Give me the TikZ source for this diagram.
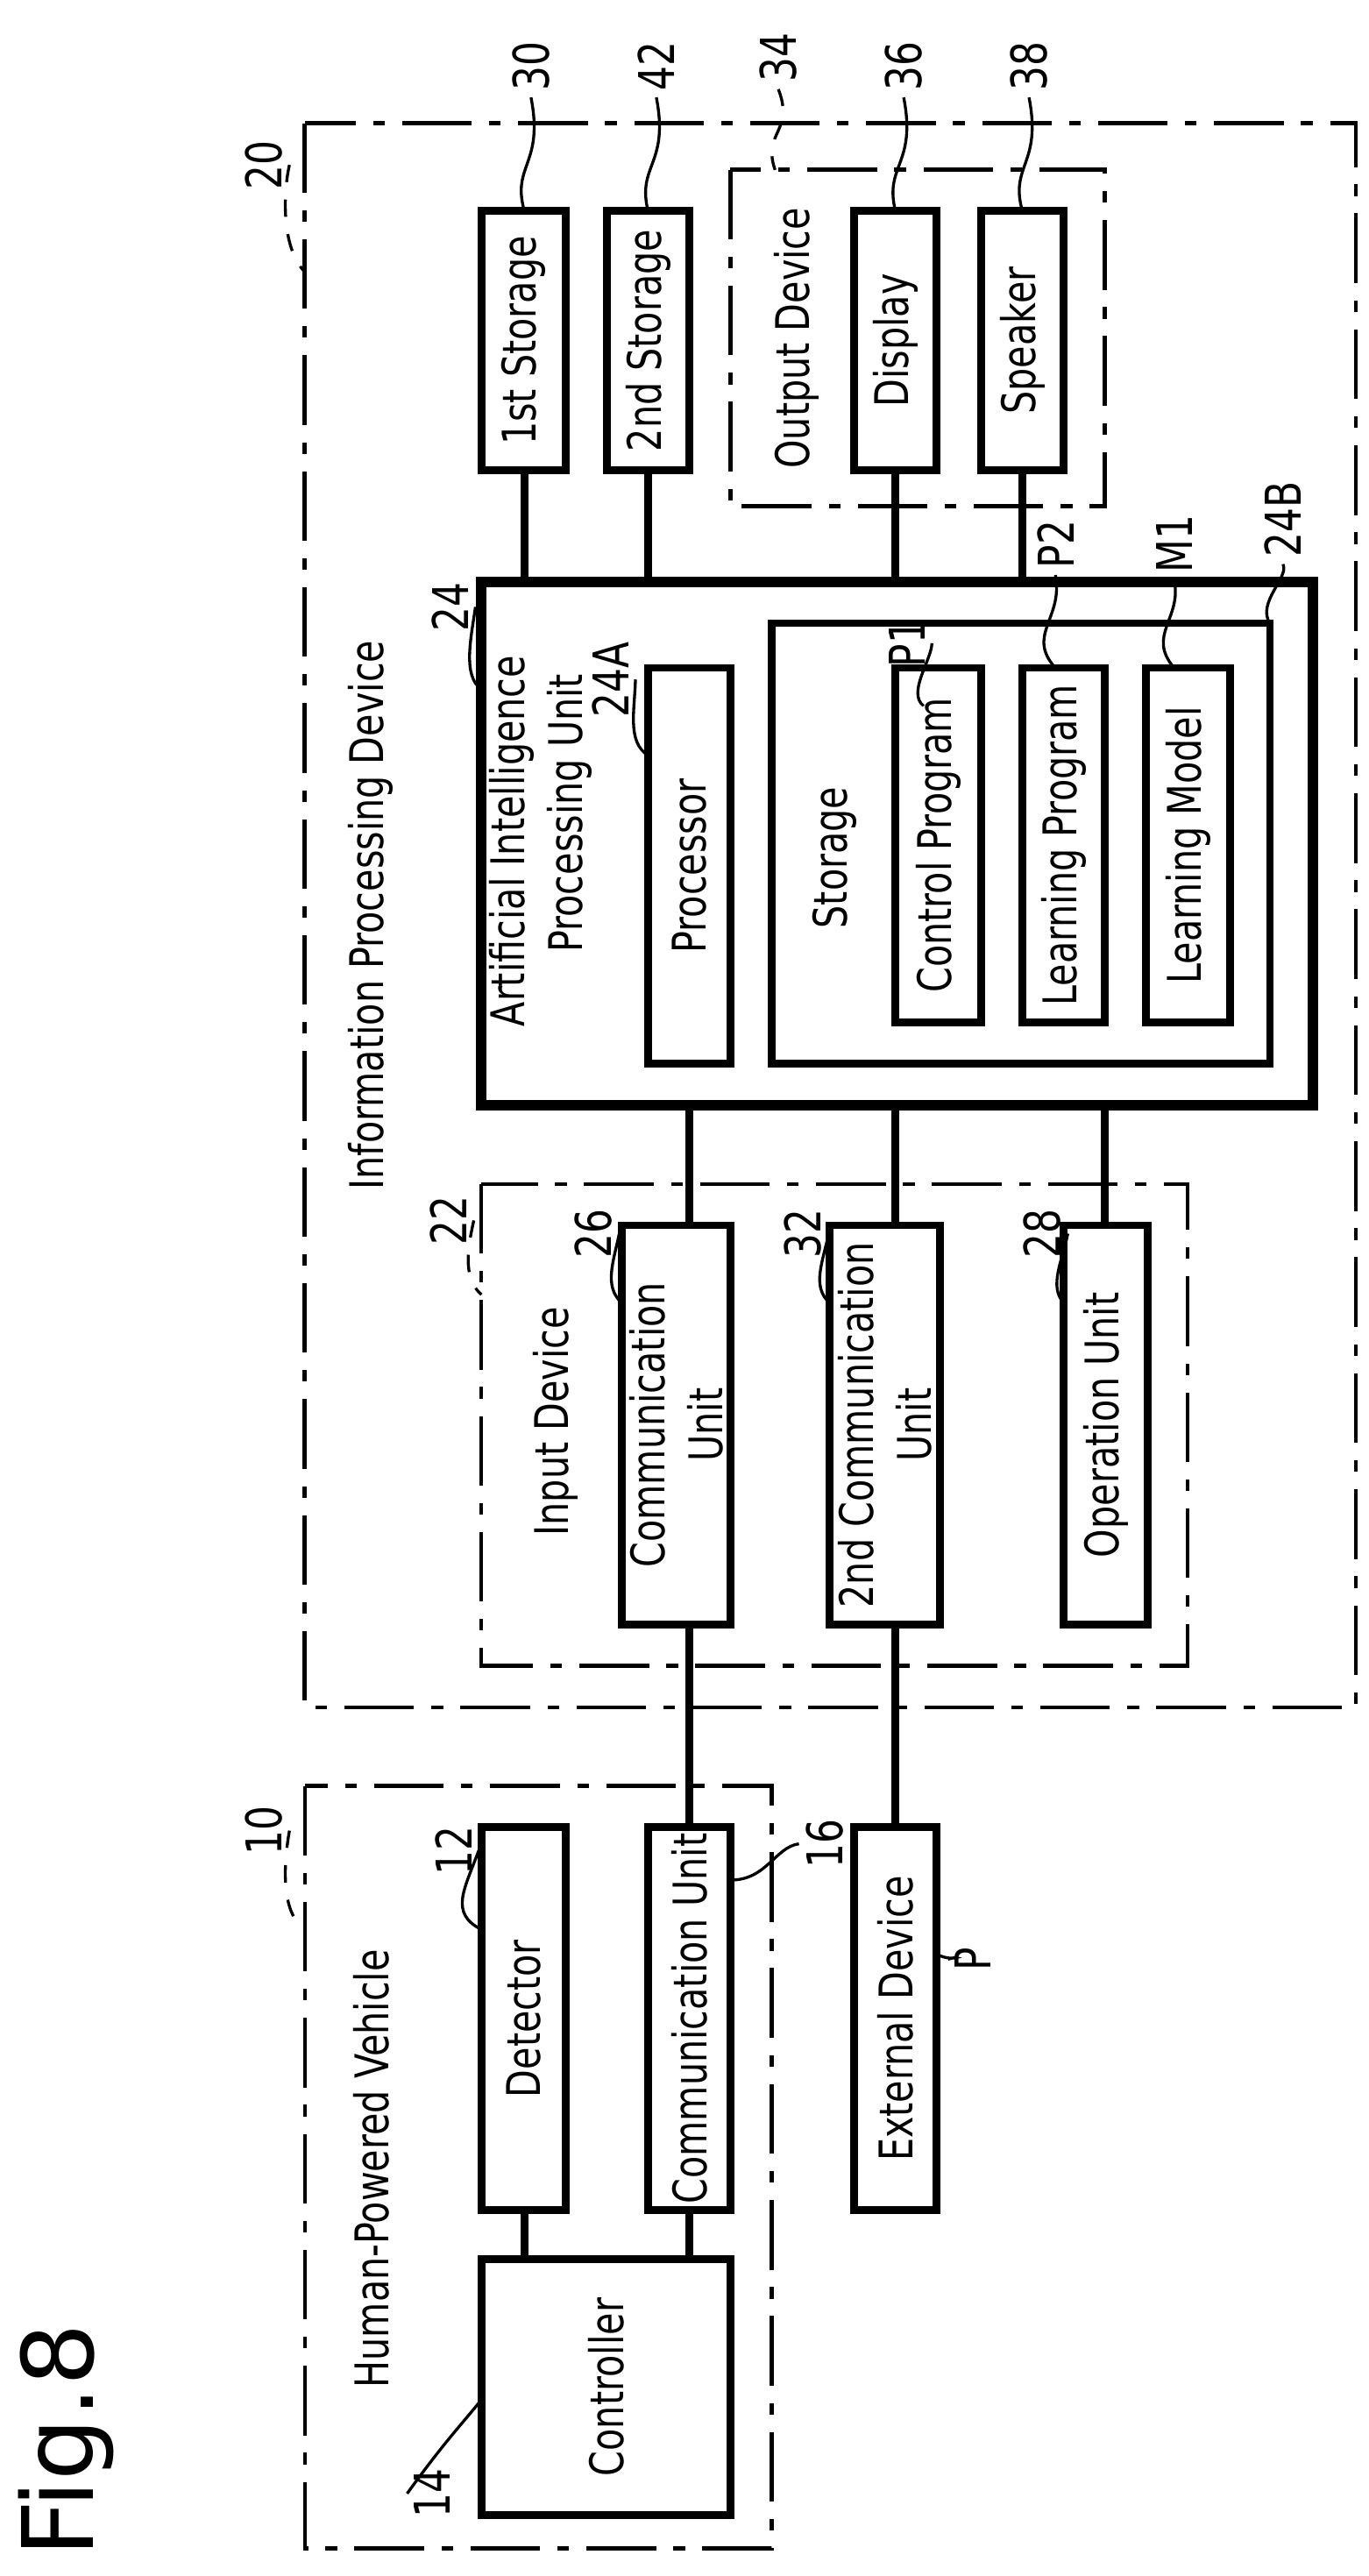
\documentclass[tikz,border=0pt]{standalone}
\usepackage{fontspec}
\setmainfont{DejaVu Sans}[FakeStretch=0.78]
\newfontfamily\figfont{DejaVu Sans}
\begin{document}
\begin{tikzpicture}[x=0.01cm,y=-0.01cm,
    box/.style={draw, line width=1.3pt, rotate=90, inner sep=0pt, align=center, font=\fontsize{8}{10}\selectfont},
    thick box/.style={box, line width=1.9pt},
    frame/.style={draw, line width=0.7pt, dash pattern=on 12pt off 3pt on 2pt off 3pt, rotate=90, inner sep=0pt},
    lbl/.style={rotate=90, inner sep=1pt, font=\fontsize{8}{10}\selectfont, align=center},
    ref/.style={rotate=90, inner sep=1pt, font=\fontsize{8.5}{10}\selectfont},
    wire/.style={line width=1.3pt},
    lead/.style={line width=0.5pt}]
\useasboundingbox (0,0) rectangle (830,1562);
% box from corner (x1,y1) to (x2,y2), rotated text
\newcommand\blk[7][box]{%
  \node[#1, minimum width={0.1mm*(#6-#4)}, minimum height={0.1mm*(#5-#3)}]
    (#2) at ({(#3+#5)/2},{(#4+#6)/2}) {#7};}

% Frames
\blk[frame]{ipd}{185}{75}{822}{1035}{}
\blk[frame]{hpv}{185}{1083}{468}{1545}{}
\blk[frame]{indev}{292}{718}{720}{1010}{}
\blk[frame]{outdev}{443}{103}{670}{307}{}

% Blocks
\blk{st1}{292}{128}{343}{285}{1st Storage}
\blk{st2}{368}{128}{418}{285}{2nd Storage}
\blk{disp}{518}{128}{568}{285}{Display}
\blk{spk}{595}{128}{645}{285}{Speaker}
\blk[thick box]{aiu}{292}{353}{796}{670}{}
\blk{proc}{393}{405}{443}{645}{Processor}
\blk{stor}{468}{378}{770}{645}{}
\blk{ctrlp}{543}{405}{595}{620}{Control Program}
\blk{learnp}{620}{405}{670}{620}{Learning Program}
\blk{learnm}{695}{405}{746}{620}{Learning Model}
\blk{comm}{377}{743}{443}{985}{Communication\\Unit}
\blk{comm2}{503}{743}{570}{985}{2nd Communication\\Unit}
\blk{opu}{645}{743}{696}{985}{Operation Unit}
\blk{det}{292}{1108}{343}{1340}{Detector}
\blk{vcomm}{393}{1108}{443}{1340}{Communication Unit}
\blk{ctrl}{292}{1370}{443}{1525}{Controller}
\blk{ext}{518}{1108}{568}{1340}{External Device}

% Texts
\node[lbl] (tipd) at (225,555) {Information Processing Device};
\node[lbl] (thpv) at (225,1315) {Human-Powered Vehicle};
\node[lbl] (tin) at (337,862) {Input Device};
\node[lbl] (tout) at (483,205) {Output Device};
\node[lbl, align=left] (tai) at (328,510) {Artificial Intelligence\\\hspace*{1.6em}Processing Unit};
\node[lbl] (tst) at (506,520) {Storage};
\node[rotate=90, font=\figfont\fontsize{17}{19}\selectfont] (fig) at (40,1480) {Fig.8};

% Wires
\foreach \a/\b in {st1/318, st2/393, disp/543, spk/620}
  \draw[wire] (\a.west -| \b,0) -- (\b,353);
\draw[wire] (418,670) -- (418,743);
\draw[wire] (543,670) -- (543,743);
\draw[wire] (670,670) -- (670,743);
\draw[wire] (418,985) -- (418,1108);
\draw[wire] (543,985) -- (543,1108);
\draw[wire] (318,1340) -- (318,1370);
\draw[wire] (418,1340) -- (418,1370);

% Reference numerals
\node[ref] (r20) at (160,100) {20};
\node[ref] (r30) at (322,40) {30};
\node[ref] (r42) at (398,40) {42};
\node[ref] (r34) at (472,35) {34};
\node[ref] (r36) at (548,40) {36};
\node[ref] (r38) at (624,40) {38};
\node[ref] (r24) at (273,368) {24};
\node[ref] (r24a) at (370,412) {24A};
\node[ref] (r24b) at (778,315) {24B};
\node[ref] (rp1) at (550,390) {P1};
\node[ref] (rp2) at (640,330) {P2};
\node[ref] (rm1) at (712,330) {M1};
\node[ref] (r22) at (272,740) {22};
\node[ref] (r26) at (360,748) {26};
\node[ref] (r32) at (487,748) {32};
\node[ref] (r28) at (632,748) {28};
\node[ref] (r10) at (160,1110) {10};
\node[ref] (r12) at (275,1122) {12};
\node[ref] (r16) at (500,1118) {16};
\node[ref] (r14) at (262,1512) {14};
\node[ref] (rp) at (590,1188) {P};

% Leaders
\draw[lead] (r30.west) .. controls (330,100) and (310,100) .. (318,128);
\draw[lead] (r42.west) .. controls (406,100) and (386,100) .. (393,128);
\draw[lead, dashed] (r34.west) .. controls (482,80) and (462,80) .. (470,103);
\draw[lead] (r36.west) .. controls (556,100) and (536,100) .. (543,128);
\draw[lead] (r38.west) .. controls (632,100) and (612,100) .. (620,128);
\draw[lead, dashed] (r20.south) .. controls (172,115) and (170,150) .. (185,165);
\draw[lead] (r24.south) .. controls (286,385) and (280,410) .. (292,418);
\draw[lead] (r24a.south) .. controls (385,430) and (380,450) .. (393,458);
\draw[lead] (rp1.south) .. controls (565,400) and (550,420) .. (560,428);
\draw[lead] (rp2.west) .. controls (645,375) and (622,385) .. (640,405);
\draw[lead] (rm1.west) .. controls (717,375) and (695,385) .. (712,405);
\draw[lead] (r24b.west) .. controls (782,350) and (762,365) .. (770,378);
\draw[lead, dashed] (r22.south) .. controls (284,755) and (280,775) .. (292,785);
\draw[lead] (r26.south) .. controls (372,765) and (366,780) .. (377,790);
\draw[lead] (r32.south) .. controls (499,765) and (492,780) .. (503,790);
\draw[lead] (r28.south) .. controls (644,765) and (636,780) .. (645,790);
\draw[lead, dashed] (r10.south) .. controls (172,1130) and (170,1160) .. (185,1170);
\draw[lead] (r12.south) .. controls (282,1145) and (272,1160) .. (292,1170);
\draw[lead] (r16.north) .. controls (470,1120) and (465,1140) .. (443,1140);
\draw[lead] (r14.north) .. controls (270,1480) and (280,1470) .. (292,1455);
\draw[lead] (rp.north) .. controls (585,1185) and (578,1190) .. (568,1185);
\end{tikzpicture}
\end{document}
